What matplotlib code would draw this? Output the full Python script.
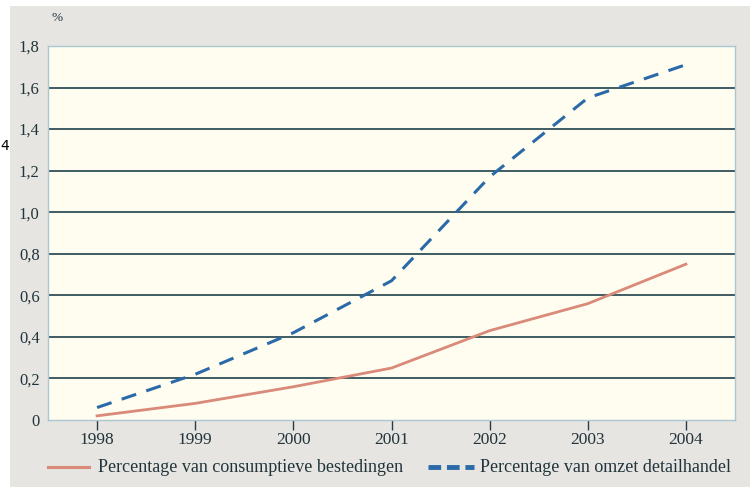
import matplotlib
matplotlib.use("Agg")
import matplotlib.pyplot as plt
from matplotlib.patches import Rectangle

years = [1998, 1999, 2000, 2001, 2002, 2003, 2004]
consumptieve = [0.02, 0.08, 0.16, 0.25, 0.43, 0.56, 0.75]
detailhandel = [0.06, 0.22, 0.42, 0.67, 1.17, 1.55, 1.71]
yticks = [0, 0.2, 0.4, 0.6, 0.8, 1.0, 1.2, 1.4, 1.6, 1.8]
ylabels = ["0", "0,2", "0,4", "0,6", "0,8", "1,0", "1,2", "1,4", "1,6", "1,8"]
label_cons = "Percentage van consumptieve bestedingen"
label_det = "Percentage van omzet detailhandel"

plt.rcParams['font.family'] = ['Liberation Serif', 'DejaVu Serif']
txt = "#22343b"

fig = plt.figure(figsize=(7.56, 4.87), dpi=100)
fig.patch.set_facecolor("white")
fig.add_artist(Rectangle((10/756, 0), 740/756, 481/487, transform=fig.transFigure,
                         facecolor="#e6e5e1", edgecolor="none", zorder=0))
ax = fig.add_axes([48/756, 67/487, 687/756, 374/487])
ax.set_facecolor("#fffcf0")
ax.set_xlim(1997.5, 2004.5)
ax.set_ylim(0, 1.8)

for v in yticks[1:-1]:
    ax.axhline(v, color="#2e5058", lw=1.3, zorder=1)

ax.plot(years, consumptieve, color="#d98a78", lw=2.0, zorder=3)
ax.plot(years, detailhandel, color="#2a6aa8", lw=2.2, dashes=(5, 3.5), zorder=3)

for s in ax.spines.values():
    s.set_color("#a9c8cf")
    s.set_linewidth(1.0)

ax.set_xticks(years)
ax.set_xticklabels([str(y) for y in years], fontsize=12.5, color=txt)
ax.tick_params(axis='x', length=7, width=1, color="#2b3d44", pad=2)
ax.set_yticks(yticks)
ax.set_yticklabels(ylabels, fontsize=12, color=txt)
ax.tick_params(axis='y', length=0, pad=6)

fig.text(52/756, 1 - 18/487, "%", fontsize=9.5, color=txt, ha="left", va="center")
fig.text(0/756, 1 - 146/487, "4", fontsize=10, color="black", ha="left", va="center",
         family="DejaVu Sans")

# legend
ly = 1 - 467/487
fig.add_artist(plt.Line2D([48/756, 89/756], [ly, ly], color="#d98a78", lw=2.2,
                          transform=fig.transFigure))
fig.text(98/756, ly, label_cons, fontsize=13, color=txt, ha="left", va="center")
fig.add_artist(plt.Line2D([428/756, 474/756], [ly, ly], color="#2a6aa8", lw=3.5,
                          dashes=(2.6, 1.2), transform=fig.transFigure))
fig.text(480/756, ly, label_det, fontsize=13, color=txt, ha="left", va="center")

fig.savefig("out.png", dpi=100)
